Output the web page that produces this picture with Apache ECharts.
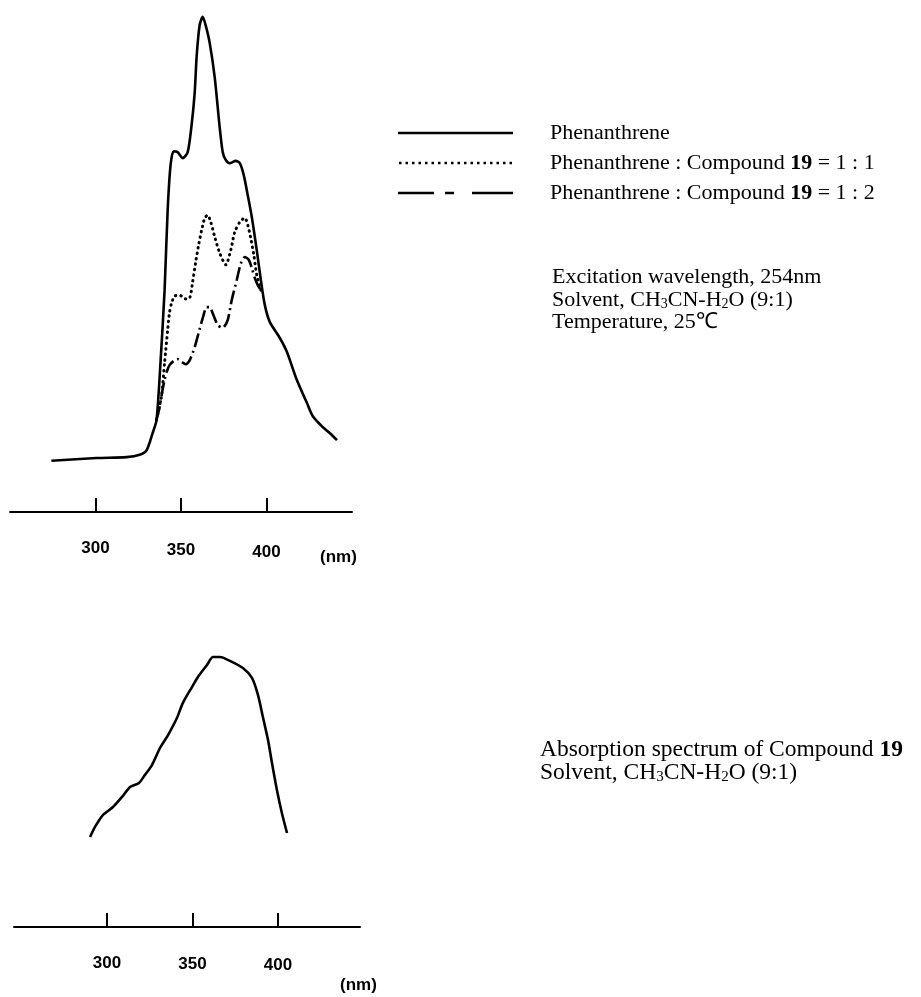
<!DOCTYPE html>
<html><head><meta charset="utf-8">
<script src="https://cdn.jsdelivr.net/npm/echarts@6/dist/echarts.min.js"></script>
<style>html,body{margin:0;padding:0;background:#fff}#c{width:921px;height:997px}</style>
</head><body><div id="c"></div>
<script>
// ---- Fluorescence emission spectra (wavelength nm, relative intensity) ----
const phenWavelength = [274.2, 300.6, 318.2, 325.8, 329.9, 333.4, 335.7, 338.1, 340.4, 342.2, 343.9, 345.7, 348.0, 351.0, 353.9, 356.2, 358.0, 359.2, 360.9, 362.7, 364.4, 366.8, 369.7, 372.6, 374.4, 376.2, 378.5, 382.0, 384.4, 386.7, 389.0, 391.4, 394.3, 396.7, 399.0, 401.9, 407.8, 411.9, 417.7, 423.6, 427.1, 433.0, 437.1, 441.2];
const phenIntensity = [2.0, 2.6, 2.8, 3.3, 4.3, 8.0, 10.9, 23.9, 39.1, 56.5, 66.3, 69.3, 69.1, 67.8, 69.1, 75.0, 82.0, 90.2, 96.7, 98.5, 96.7, 92.8, 85.4, 74.6, 69.1, 67.4, 66.7, 67.2, 66.7, 64.1, 59.8, 55.0, 47.8, 41.3, 35.9, 32.2, 28.7, 25.7, 19.6, 14.6, 11.7, 9.3, 8.0, 6.5];

const mix11Wavelength = [335.7, 336.9, 338.7, 340.4, 342.2, 343.3, 344.5, 346.3, 349.2, 352.7, 355.1, 356.8, 358.6, 360.3, 362.1, 363.9, 365.6, 367.4, 369.7, 372.6, 376.2, 379.1, 381.4, 384.4, 387.3, 389.0, 390.8, 392.6, 394.3, 396.7];
const mix11Intensity = [10.9, 13.0, 16.3, 23.3, 30.4, 34.3, 36.3, 37.8, 38.0, 37.2, 37.4, 40.9, 45.2, 48.9, 52.2, 54.8, 55.4, 53.9, 50.7, 47.2, 44.6, 47.8, 51.7, 53.9, 54.8, 53.3, 50.4, 46.7, 42.4, 39.1];

const mix12Wavelength = [335.7, 337.5, 339.2, 340.4, 341.6, 343.3, 345.7, 348.0, 350.4, 352.7, 355.1, 358.0, 360.3, 362.7, 365.0, 366.8, 368.5, 371.5, 374.4, 377.3, 379.7, 382.6, 384.9, 387.3, 389.6, 391.4, 393.2, 394.9, 396.7];
const mix12Intensity = [10.9, 13.7, 17.4, 19.6, 21.3, 22.8, 23.7, 24.1, 23.5, 23.0, 23.9, 26.7, 29.8, 33.0, 35.4, 35.4, 34.1, 31.5, 30.9, 32.6, 37.0, 41.3, 44.8, 46.3, 45.7, 43.9, 41.7, 40.2, 39.1];

// ---- Absorption spectrum of compound 19 ----
const absWavelength = [290.1, 293.0, 297.7, 303.5, 308.8, 313.5, 318.7, 322.2, 326.3, 331.0, 335.7, 340.9, 344.4, 349.7, 353.2, 358.5, 362.0, 366.1, 371.9, 379.5, 384.8, 388.3, 391.2, 394.2, 396.5, 399.4, 402.3, 405.3];
const absValue = [17.9, 22.1, 27.1, 30.4, 34.6, 38.8, 40.4, 43.8, 47.9, 55.0, 60.4, 67.5, 73.8, 80.4, 84.6, 89.6, 92.9, 92.9, 91.3, 88.3, 84.2, 77.1, 67.9, 58.3, 48.8, 37.5, 27.9, 19.6];

const tickValues = [300, 350, 400];
const seriesNames = ['Phenanthrene', 'Phenanthrene : Compound 19 = 1 : 1', 'Phenanthrene : Compound 19 = 1 : 2'];
const noteTop = ['Excitation wavelength, 254nm', 'Solvent, CH{s|3}CN-H{s|2}O (9:1)', 'Temperature, 25\u2103'];
const noteBottom = ['Absorption spectrum of Compound {b|19}', 'Solvent, CH{s|3}CN-H{s|2}O (9:1)'];
const unitLabel = '(nm)';

const zip = (xs, ys) => xs.map((x, i) => [x, ys[i]]);

const SERIF = '"Liberation Serif", "Times New Roman", serif';
const SANS = '"Liberation Sans", Arial, sans-serif';
const textSize = 22;
const bottomTextSize = 23.5;

const dotPath = (() => { let p = 'path://'; for (let x = 0; x <= 112; x += 6.5) p += 'M' + x + ',0h2.5v2.5h-2.5z'; return p; })();
const icons = ['path://M0,0h115v2.5h-115z', dotPath, 'path://M0,0h36v2.5h-36zM47,0h9v2.5h-9zM74,0h41v2.5h-41z'];

function xAxisFor(grid, min, max, offset, labelPad) {
  const rich = {};
  tickValues.forEach((v, i) => { rich['t' + v] = { fontFamily: SANS, fontWeight: 'bold', fontSize: 17, color: '#000', padding: [labelPad[i], 0, 0, 0] }; });
  return {
    type: 'value', gridIndex: grid, min: min, max: max, offset: offset,
    axisLine: { show: true, onZero: false, lineStyle: { color: '#000', width: 2 } },
    axisTick: { show: true, inside: true, length: 14, customValues: tickValues, lineStyle: { color: '#000', width: 2 } },
    axisLabel: { show: true, customValues: tickValues, margin: 28, formatter: v => '{t' + v + '|' + v + '}', rich: rich },
    splitLine: { show: false }
  };
}
function yAxisFor(grid) {
  return { type: 'value', gridIndex: grid, min: 0, max: 100, show: false, splitLine: { show: false } };
}
const lineBase = { type: 'line', showSymbol: false, symbol: 'none', smooth: 0.25, silent: true, color: '#000' };

const chart = echarts.init(document.getElementById('c'), null, { renderer: 'canvas' });
chart.setOption({
  animation: false,
  backgroundColor: '#fff',
  grid: [
    { left: 10, width: 342, top: 10, height: 460, outerBoundsMode: 'none' },
    { left: 14, width: 346, top: 640, height: 240, outerBoundsMode: 'none' }
  ],
  xAxis: [xAxisFor(0, 250, 450, 42, [0, 2, 4]), xAxisFor(1, 245.6, 448, 47, [0, 1, 2])],
  yAxis: [yAxisFor(0), yAxisFor(1)],
  legend: {
    orient: 'vertical', left: 393, top: 117, itemWidth: 115, itemHeight: 2.5, itemGap: 8,
    selectedMode: false,
    data: seriesNames.map((n, i) => ({ name: n, icon: icons[i] })),
    formatter: n => n.replace('19', '{b|19}'),
    textStyle: {
      fontFamily: SERIF, fontSize: textSize, color: '#000', lineHeight: 22, padding: [0, 0, 0, 32],
      rich: { b: { fontFamily: SERIF, fontSize: textSize, fontWeight: 'bold', color: '#000', lineHeight: 22 } }
    }
  },
  series: [
    Object.assign({}, lineBase, { name: seriesNames[0], xAxisIndex: 0, yAxisIndex: 0, data: zip(phenWavelength, phenIntensity), lineStyle: { color: '#000', width: 2.6 } }),
    Object.assign({}, lineBase, { name: seriesNames[1], xAxisIndex: 0, yAxisIndex: 0, data: zip(mix11Wavelength, mix11Intensity), lineStyle: { color: '#000', width: 3, type: [0.5, 5], cap: 'round' } }),
    Object.assign({}, lineBase, { name: seriesNames[2], xAxisIndex: 0, yAxisIndex: 0, data: zip(mix12Wavelength, mix12Intensity), lineStyle: { color: '#000', width: 2.6, type: [14, 4, 2, 4] } }),
    Object.assign({}, lineBase, { name: 'Absorption', xAxisIndex: 1, yAxisIndex: 1, data: zip(absWavelength, absValue), lineStyle: { color: '#000', width: 2.6 } })
  ],
  graphic: [
    { type: 'text', left: 320, top: 549, silent: true, style: { text: unitLabel, fontFamily: SANS, fontWeight: 'bold', fontSize: 17, fill: '#000' } },
    { type: 'text', left: 340, top: 977, silent: true, style: { text: unitLabel, fontFamily: SANS, fontWeight: 'bold', fontSize: 17, fill: '#000' } },
    { type: 'text', left: 552, top: 266, silent: true, style: {
        text: noteTop.join('\n'), fontFamily: SERIF, fontSize: textSize, fill: '#000', lineHeight: 22.5,
        rich: { s: { fontFamily: SERIF, fontSize: 14, fill: '#000', lineHeight: 10, verticalAlign: 'bottom' } } } },
    { type: 'text', left: 540, top: 738, silent: true, style: {
        text: noteBottom.join('\n'), fontFamily: SERIF, fontSize: bottomTextSize, fill: '#000', lineHeight: 23,
        rich: { s: { fontFamily: SERIF, fontSize: 15, fill: '#000', lineHeight: 10, verticalAlign: 'bottom' },
                b: { fontFamily: SERIF, fontSize: bottomTextSize, fontWeight: 'bold', fill: '#000', lineHeight: 23 } } } }
  ]
});
</script>
</body></html>
